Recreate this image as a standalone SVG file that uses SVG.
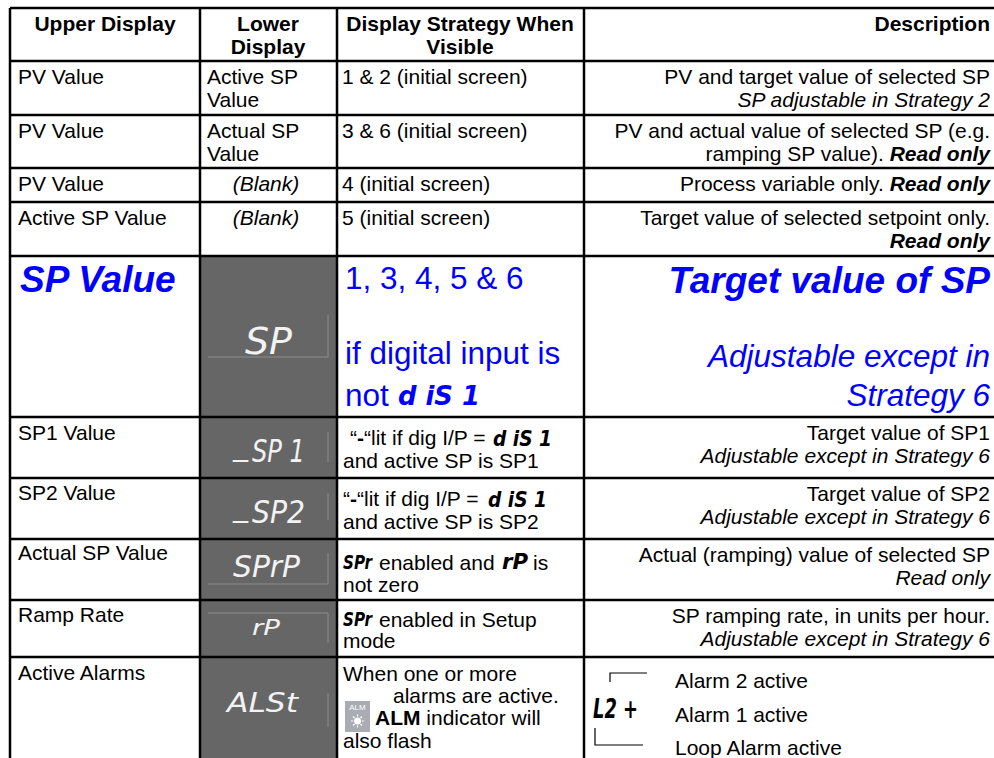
<svg xmlns="http://www.w3.org/2000/svg" width="994" height="758" viewBox="0 0 994 758">
<style>
text{font-family:"Liberation Sans",Arial,sans-serif;font-size:21px;fill:#000}
.b{font-weight:bold}
.i{font-style:italic}
.bi{font-weight:bold;font-style:italic}
.c{text-anchor:middle}
.r{text-anchor:end}
.big{font-size:37px;font-weight:bold;font-style:italic;fill:#0000ff}
.med{font-size:31.5px;fill:#0000ff}
.medi{font-size:31.5px;font-style:italic;fill:#0000ff}
.seg{font-family:"DejaVu Sans",sans-serif;font-style:oblique;fill:#f2f2f2}
.segk{font-family:"DejaVu Sans",sans-serif;font-weight:bold;font-style:oblique;fill:#000}
.segb{font-family:"DejaVu Sans",sans-serif;font-weight:bold;font-style:oblique;fill:#0000ff}
.grid{stroke:#000;stroke-width:2.5;fill:none}
.disp{stroke:#8c8c8c;stroke-width:1;fill:none}
.thin{stroke:#000;stroke-width:1.2;fill:none}
</style>
<rect x="0" y="0" width="994" height="758" fill="#fff"/>
<rect x="200" y="256" width="137" height="502" fill="#666"/>

<g id="display-outlines">
<path class="disp" d="M328 315V357M208 357H328"/>
<path class="disp" d="M328 432V462"/>
<path class="disp" d="M328 493V520"/>
<path class="disp" d="M328 553V584M208 584H328"/>
<path class="disp" d="M208 613H328M328 613V643"/>
<path class="disp" d="M328 693V727"/>
</g>

<g id="grid">
<path class="grid" d="M10 8V758M200 8V758M337 8V758M584 8V758"/>
<path class="grid" d="M10 8H994M10 61H994M10 115H994M10 168H994M10 202H994M10 256H994M10 417H994M10 478H994M10 539H994M10 600H994M10 657H994"/>
</g>

<g id="header">
<text class="b c" x="105" y="31">Upper Display</text>
<text class="b c" x="268" y="31">Lower</text>
<text class="b c" x="268" y="54">Display</text>
<text class="b c" x="460" y="31">Display Strategy When</text>
<text class="b c" x="460" y="54">Visible</text>
<text class="b r" x="990" y="31">Description</text>
</g>

<g id="row1">
<text x="18" y="84">PV Value</text>
<text x="207" y="84">Active SP</text>
<text x="207" y="107">Value</text>
<text x="342" y="84">1 &amp; 2 (initial screen)</text>
<text class="r" x="990" y="84">PV and target value of selected SP</text>
<text class="i r" x="990" y="107">SP adjustable in Strategy 2</text>
</g>

<g id="row2">
<text x="18" y="138">PV Value</text>
<text x="207" y="138">Actual SP</text>
<text x="207" y="161">Value</text>
<text x="342" y="138">3 &amp; 6 (initial screen)</text>
<text class="r" x="990" y="138">PV and actual value of selected SP (e.g.</text>
<text class="r" x="990" y="161">ramping SP value). <tspan class="bi">Read only</tspan></text>
</g>

<g id="row3">
<text x="18" y="191">PV Value</text>
<text class="i c" x="266" y="191">(Blank)</text>
<text x="342" y="191">4 (initial screen)</text>
<text class="r" x="990" y="191">Process variable only. <tspan class="bi">Read only</tspan></text>
</g>

<g id="row4">
<text x="18" y="225">Active SP Value</text>
<text class="i c" x="266" y="225">(Blank)</text>
<text x="342" y="225">5 (initial screen)</text>
<text class="r" x="990" y="225">Target value of selected setpoint only.</text>
<text class="bi r" x="990" y="248">Read only</text>
</g>

<g id="row5">
<text class="big" x="20" y="292">SP Value</text>
<text class="seg" x="245" y="354" style="font-size:38px" textLength="47" lengthAdjust="spacingAndGlyphs">SP</text>
<text class="med" x="345" y="289">1, 3, 4, 5 &amp; 6</text>
<text class="med" x="345" y="364">if digital input is</text>
<text class="med" x="345" y="406">not</text>
<text class="segb" x="398" y="405" style="font-size:27px" textLength="82" lengthAdjust="spacingAndGlyphs">d iS 1</text>
<text class="big r" x="990" y="293">Target value of SP</text>
<text class="medi r" x="990" y="367">Adjustable except in</text>
<text class="medi r" x="990" y="406">Strategy 6</text>
</g>

<g id="row6">
<text x="18" y="440">SP1 Value</text>
<text class="seg" x="233" y="455" style="font-size:30px">_</text>
<text class="seg" x="252" y="462" style="font-size:32px" textLength="53" lengthAdjust="spacingAndGlyphs">SP 1</text>
<text x="350" y="445">“<tspan class="b">-</tspan>“lit if dig I/P = </text>
<text class="segk" x="493" y="446" style="font-size:22px" textLength="59" lengthAdjust="spacingAndGlyphs">d iS 1</text>
<text x="343" y="468">and active SP is SP1</text>
<text class="r" x="990" y="440">Target value of SP1</text>
<text class="i r" x="990" y="463">Adjustable except in Strategy 6</text>
</g>

<g id="row7">
<text x="18" y="500">SP2 Value</text>
<text class="seg" x="233" y="516" style="font-size:30px">_</text>
<text class="seg" x="252" y="523" style="font-size:32px" textLength="53" lengthAdjust="spacingAndGlyphs">SP2</text>
<text x="343" y="506">“<tspan class="b">-</tspan>“lit if dig I/P = </text>
<text class="segk" x="488" y="507" style="font-size:22px" textLength="59" lengthAdjust="spacingAndGlyphs">d iS 1</text>
<text x="343" y="529">and active SP is SP2</text>
<text class="r" x="990" y="501">Target value of SP2</text>
<text class="i r" x="990" y="524">Adjustable except in Strategy 6</text>
</g>

<g id="row8">
<text x="18" y="560">Actual SP Value</text>
<text class="seg" x="233" y="577" style="font-size:30px" textLength="67" lengthAdjust="spacingAndGlyphs">SPrP</text>
<text class="segk" x="343" y="569" style="font-size:20px" textLength="29" lengthAdjust="spacingAndGlyphs">SPr</text>
<text x="379" y="570">enabled and</text>
<text class="segk" x="502" y="569" style="font-size:22px" textLength="26" lengthAdjust="spacingAndGlyphs">rP</text>
<text x="533" y="570">is</text>
<text x="343" y="592">not zero</text>
<text class="r" x="990" y="562">Actual (ramping) value of selected SP</text>
<text class="i r" x="990" y="585">Read only</text>
</g>

<g id="row9">
<text x="18" y="622">Ramp Rate</text>
<text class="seg" x="252" y="635" style="font-size:21px" textLength="28" lengthAdjust="spacingAndGlyphs">rP</text>
<text class="segk" x="343" y="626" style="font-size:20px" textLength="29" lengthAdjust="spacingAndGlyphs">SPr</text>
<text x="379" y="627">enabled in Setup</text>
<text x="343" y="648">mode</text>
<text class="r" x="990" y="623">SP ramping rate, in units per hour.</text>
<text class="i r" x="990" y="646">Adjustable except in Strategy 6</text>
</g>

<g id="row10">
<text x="18" y="680">Active Alarms</text>
<text class="seg" x="227" y="712" style="font-size:26px" textLength="71" lengthAdjust="spacingAndGlyphs">ALSt</text>
<text x="343" y="681">When one or more</text>
<text x="393" y="703">alarms are active.</text>
<g id="alm-icon">
<rect x="345" y="701" width="25" height="31" fill="#a9adb3"/>
<text x="357.5" y="710" text-anchor="middle" style="fill:#fff;font-size:8px">ALM</text>
<circle cx="357.5" cy="721" r="3.5" fill="#fff"/>
<path d="M357.5 714.5V716.5M357.5 725.5V727.5M351 721H353M362 721H364M353 716.5L354.5 718M360.5 724L362 725.5M362 716.5L360.5 718M354.5 724L353 725.5" stroke="#fff" stroke-width="1.2"/>
</g>
<text x="375" y="725"><tspan class="b">ALM</tspan> indicator will</text>
<text x="343" y="748">also flash</text>
<path class="thin" d="M610 682V673H647M595 728V745H643"/>
<text class="segk" x="593" y="718" style="font-size:26px" textLength="45" lengthAdjust="spacingAndGlyphs">L2 +</text>
<text x="675" y="688">Alarm 2 active</text>
<text x="675" y="722">Alarm 1 active</text>
<text x="675" y="755">Loop Alarm active</text>
</g>
</svg>
